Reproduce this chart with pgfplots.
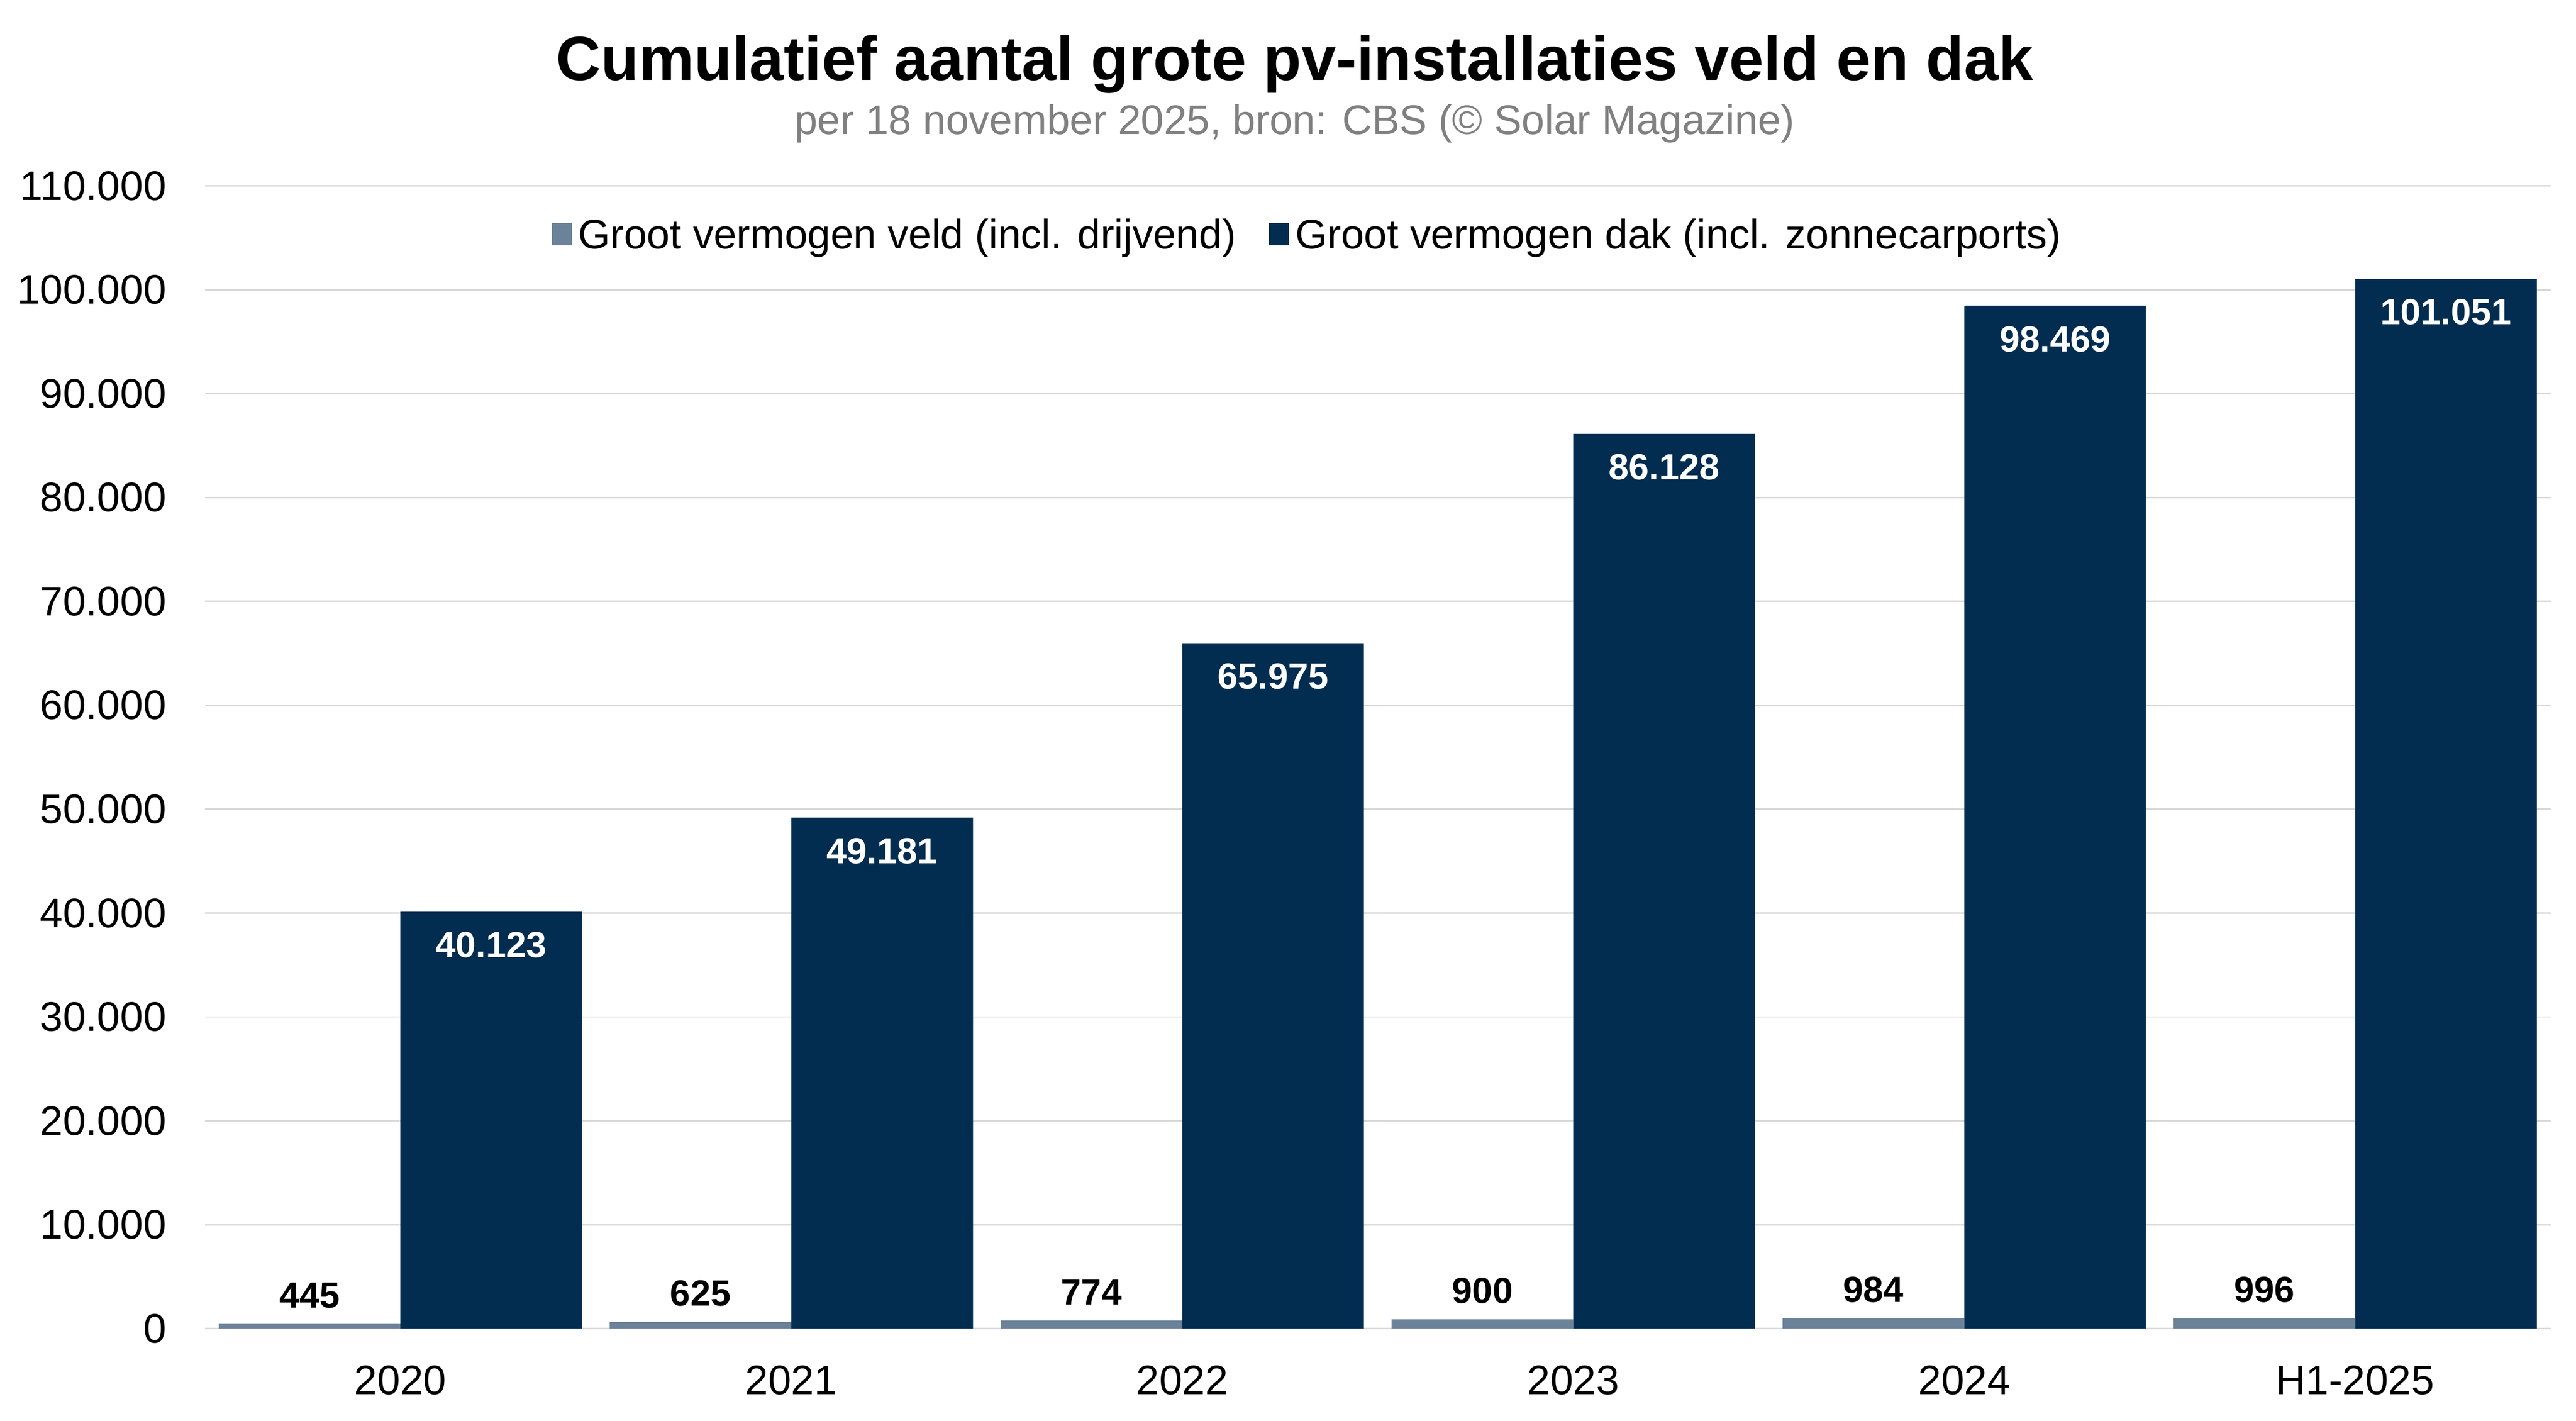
\documentclass[border=0pt]{standalone}
\usepackage{pgfplots}
\pgfplotsset{compat=1.18}
\usepackage{fontspec}
\setmainfont{Liberation Sans}
\definecolor{veld}{HTML}{6B8299}
\definecolor{dak}{HTML}{022D50}
\definecolor{gridc}{HTML}{D9D9D9}
\definecolor{subc}{HTML}{808080}
\pgfplotstableread{
x veld dak
0 445 40123
1 625 49181
2 774 65975
3 900 86128
4 984 98469
5 996 101051
}\datatable
\begin{document}
\begin{tikzpicture}
\path[use as bounding box] (-62.04pt,-27.88pt) rectangle (717.96pt,402.12pt);
\begin{axis}[
 at={(0pt,0pt)}, anchor=south west,
 scale only axis, width=710.3pt, height=345.85pt,
 ybar=0pt, bar width=0.4646,
 xmin=-0.5, xmax=5.5, ymin=0, ymax=110000,
 xtick=data, xticklabels={2020,2021,2022,2023,2024,H1-2025},
 ytick={0,10000,...,110000},
 ymajorgrids, grid style={gridc, line width=0.45pt},
 axis line style={draw=none}, major tick length=0pt,
 scaled y ticks=false,
 /pgf/number format/.cd, fixed, precision=0, 1000 sep={.}, assume math mode=true, /pgfplots/.cd,
 tick label style={font=\fontsize{12.5}{15}\selectfont},
 yticklabel style={anchor=east, inner sep=0pt, xshift=-11.5pt},
 xticklabel style={anchor=base, inner sep=0pt, yshift=-20pt},
 legend style={at={(0.471,0.956)}, anchor=center, draw=none, fill=none,
   font=\fontsize{12.5}{15}\selectfont,
   /tikz/every even column/.append style={column sep=8pt}},
 legend columns=2,
 legend image code/.code={\fill[#1] (0pt,-2.7pt) rectangle (6pt,4pt);},
 clip=false,
]
\addplot[fill=veld, draw=none,
  nodes near coords,
  every node near coord/.append style={font=\bfseries\fontsize{11}{13}\selectfont, text=black, anchor=south, inner sep=0pt, yshift=4.6pt}]
  table[x=x, y=veld] {\datatable};
\addlegendentry{Groot vermogen veld (incl. drijvend)}
\addplot[fill=dak, draw=none,
  nodes near coords,
  every node near coord/.append style={font=\bfseries\fontsize{11}{13}\selectfont, text=white, anchor=north, inner sep=0pt, yshift=-6pt}]
  table[x=x, y=dak] {\datatable};
\addlegendentry{Groot vermogen dak (incl. zonnecarports)}
\end{axis}
\node[anchor=base, font=\bfseries\fontsize{18.8}{22}\selectfont] at (330pt,377.9pt) {Cumulatief aantal grote pv-installaties veld en dak};
\node[anchor=base, text=subc, font=\fontsize{12.5}{15}\selectfont] at (330pt,361.5pt) {per 18 november 2025, bron: CBS (© Solar Magazine)};
\end{tikzpicture}
\end{document}
